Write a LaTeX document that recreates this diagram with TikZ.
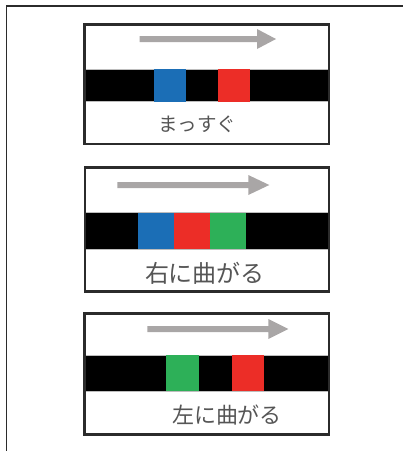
\documentclass[tikz,border=0pt]{standalone}
\usepackage{fontspec}
\newfontfamily\jp{Noto Sans CJK JP}
\definecolor{frameC}{HTML}{2B2B2B}
\definecolor{arrowC}{HTML}{A9A6A6}
\definecolor{edgeC}{HTML}{BDBDBD}
\definecolor{blueC}{HTML}{1B6EB6}
\definecolor{redC}{HTML}{EC2D27}
\definecolor{greenC}{HTML}{2DB058}
\definecolor{textC}{HTML}{555555}
\tikzset{
  outerframe/.style={draw=frameC, line width=1.8pt},
  boxframe/.style={draw=frameC, line width=2.4pt},
  band/.style={fill=black, draw=edgeC, line width=0.8pt},
  patch/.style={draw=none},
  arrowshape/.style={fill=arrowC, draw=none},
  label/.style={text=textC, inner sep=0pt, anchor=center},
}
\newcommand{\grayarrow}[4]{% x0, xh, xt, y
  \fill[arrowshape] (#1,#4-3) -- (#2,#4-3) -- (#2,#4-10) -- (#3,#4) -- (#2,#4+10) -- (#2,#4+3) -- (#1,#4+3) -- cycle;}
\begin{document}
\begin{tikzpicture}[x=1pt,y=-1pt]
\useasboundingbox (0,0) rectangle (403,451);
\draw[outerframe] (6.5,451) -- (6.5,6) -- (403,6);

% Panel 1
\fill[white] (84.5,24.5) rectangle (329,144);
\draw[band] (84.5,69) rectangle (329,101.5);
\fill[blueC] (154,69) rectangle (185.5,101.5);
\fill[redC] (217.5,69) rectangle (249.5,101.5);
\grayarrow{139.5}{257}{276}{39}
\draw[boxframe] (84.5,24.5) rectangle (329,144);
\node[label, font=\jp\fontsize{19.5}{22}\selectfont] (t1) at (197.5,124) {まっすぐ};

% Panel 2
\draw[band] (85,212.5) rectangle (329,249);
\fill[blueC] (138.3,212.5) rectangle (174,249);
\fill[redC] (174,212.5) rectangle (210,249);
\fill[greenC] (210,212.5) rectangle (245.7,249);
\grayarrow{117.3}{248.3}{269.3}{185}
\draw[boxframe] (85,167.5) rectangle (329,291.5);
\node[label, font=\jp\fontsize{24}{26}\selectfont] (t2) at (205,273.5) {右に曲がる};

% Panel 3
\draw[band] (84.5,355) rectangle (329,391);
\fill[greenC] (165.7,355) rectangle (199,391);
\fill[redC] (231.7,355) rectangle (264.3,391);
\grayarrow{147.3}{268.3}{288.3}{329}
\draw[boxframe] (84.5,313.5) rectangle (329,434.5);
\node[label, font=\jp\fontsize{22}{24}\selectfont] (t3) at (227,415) {左に曲がる};
\end{tikzpicture}
\end{document}
